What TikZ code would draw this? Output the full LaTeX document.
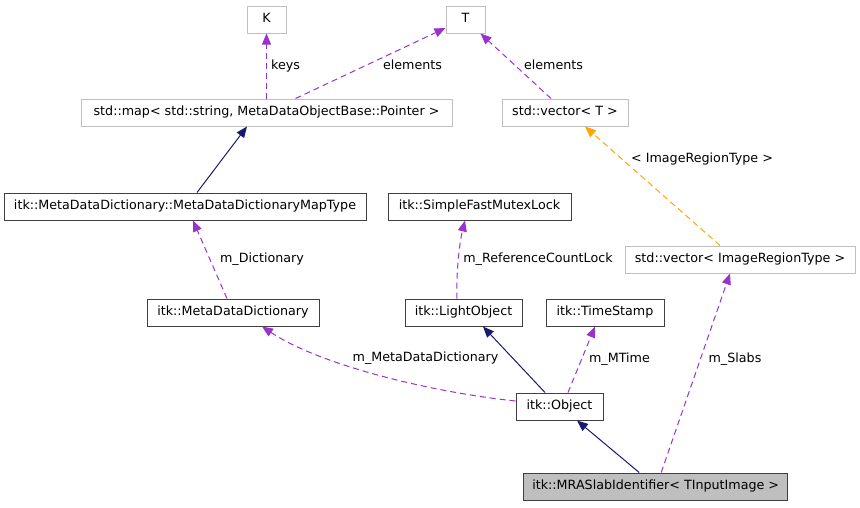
\documentclass[tikz,border=0pt]{standalone}
\usepackage{fontspec}
\setmainfont{DejaVu Sans}
\usetikzlibrary{arrows.meta}
\definecolor{purp}{HTML}{9A32CD}
\definecolor{navyc}{HTML}{191970}
\definecolor{orng}{HTML}{FFA500}
\definecolor{bdark}{HTML}{404040}
\definecolor{blight}{HTML}{BFBFBF}
\tikzset{
  boxbase/.style={rectangle, fill=white, line width=1pt, minimum height=27pt,
    inner sep=0pt, text height=9pt, text depth=2.5pt, font=\fontsize{12.7}{14}\selectfont},
  cls/.style={boxbase, draw=bdark},
  ext/.style={boxbase, draw=blight},
  cur/.style={boxbase, draw=bdark, fill=blight},
  lbl/.style={inner sep=0pt, font=\fontsize{12.7}{14}\selectfont, text height=9pt, text depth=2.5pt},
  dep/.style={-{Triangle[length=11pt,width=9pt,fill=purp]}, draw=purp, line width=1pt, dash pattern=on 6pt off 4pt},
  inh/.style={-{Triangle[length=11pt,width=9pt,fill=navyc]}, draw=navyc, line width=1pt},
  tmpl/.style={-{Triangle[length=11pt,width=9pt,fill=orng]}, draw=orng, line width=1pt, dash pattern=on 6pt off 4pt},
}
\begin{document}
\begin{tikzpicture}[x=1pt,y=-1pt]
\useasboundingbox (0,0) rectangle (860,507);
% nodes
\node[ext, minimum width=39pt]  (K)    at (266.5,19.5) {K};
\node[ext, minimum width=39pt]  (T)    at (465.5,19.5) {T};
\node[ext, minimum width=371pt] (map)  at (266.5,112.5) {std::map< std::string, MetaDataObjectBase::Pointer >};
\node[ext, minimum width=126pt] (vecT) at (565,112.5) {std::vector< T >};
\node[cls, minimum width=362pt] (mapt) at (185,206.5) {itk::MetaDataDictionary::MetaDataDictionaryMapType};
\node[cls, minimum width=183pt] (sfml) at (479.5,206.5) {itk::SimpleFastMutexLock};
\node[ext, minimum width=230pt] (vecR) at (740,259.5) {std::vector< ImageRegionType >};
\node[cls, minimum width=172pt] (mdd)  at (233,312.5) {itk::MetaDataDictionary};
\node[cls, minimum width=117pt] (lobj) at (463.5,312.5) {itk::LightObject};
\node[cls, minimum width=118pt] (ts)   at (605,312.5) {itk::TimeStamp};
\node[cls, minimum width=87pt]  (obj)  at (559.5,406.5) {itk::Object};
\node[cur, minimum width=264pt] (mra)  at (655.7,486.5) {itk::MRASlabIdentifier< TInputImage >};
% edges
\draw[dep] (map.north) -- (K.south);
\draw[dep] ([xshift=29pt]map.north) -- ([yshift=-8.5pt]T.west);
\draw[dep] ([xshift=-14pt]vecT.north) -- ([xshift=-5pt]T.south east);
\draw[inh] ([xshift=12pt]mapt.north) -- ([xshift=-19.5pt]map.south);
\draw[tmpl] ([xshift=-20pt]vecR.north) -- ([xshift=20pt]vecT.south);
\draw[dep] ([xshift=-6pt]mdd.north) -- ([xshift=8pt]mapt.south);
\draw[dep] ([xshift=-6.5pt]lobj.north) .. controls ([xshift=-7.5pt,yshift=29pt]lobj.north) and ([xshift=-19.5pt,yshift=-20pt]sfml.south) .. ([xshift=-14.5pt]sfml.south);
\draw[dep] ([yshift=5.5pt]obj.west) .. controls (430,392) and (320,365) .. ([xshift=29pt]mdd.south);
\draw[inh] ([xshift=-14.5pt]obj.north) -- ([xshift=19.5pt]lobj.south);
\draw[dep] ([xshift=8.5pt]obj.north) -- ([xshift=-10pt]ts.south);
\draw[inh] ([xshift=-16.5pt]mra.north) -- ([xshift=17.5pt]obj.south);
\draw[dep] ([xshift=5.5pt]mra.north) -- ([xshift=-10pt]vecR.south);
% labels
\node[lbl, anchor=west] (lkeys) at (271,66) {keys};
\node[lbl] (lel1) at (412.5,66) {elements};
\node[lbl] (lel2) at (553.5,66) {elements};
\node[lbl] (lirt) at (702,159) {< ImageRegionType >};
\node[lbl] (ldict) at (262,259) {m\_Dictionary};
\node[lbl] (lrcl) at (538,259) {m\_ReferenceCountLock};
\node[lbl] (lmdd) at (425.5,358) {m\_MetaDataDictionary};
\node[lbl] (lmt) at (619.5,359) {m\_MTime};
\node[lbl] (lsl) at (735,359) {m\_Slabs};
\end{tikzpicture}
\end{document}
